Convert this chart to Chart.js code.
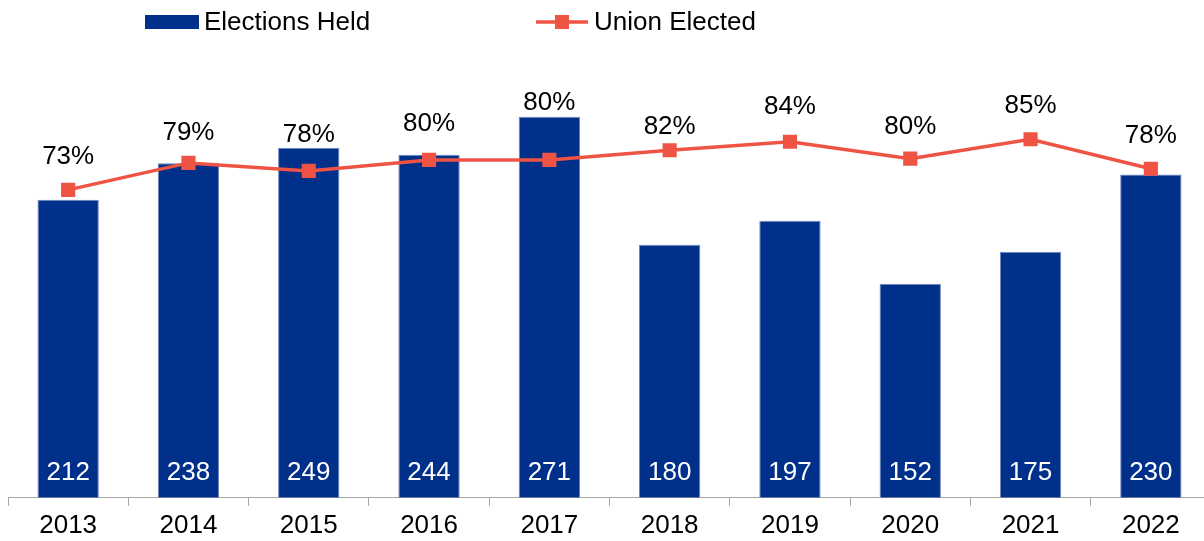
<!DOCTYPE html>
<html lang="en">
<head>
    <meta charset="UTF-8">
    <title>Elections Held and Union Elected</title>
    <script src="https://cdn.jsdelivr.net/npm/chart.js"></script>
    <style>
        html, body { margin: 0; padding: 0; background: #fff; overflow: hidden; }
        #clip { width: 1204px; height: 541px; overflow: hidden; }
        #wrap { width: 1212px; height: 541px; position: relative; }
    </style>
</head>
<body>

    <div id="clip"><div id="wrap"><canvas id="electionChart"></canvas></div></div>

    <script>
        // data
        const years = ['2013', '2014', '2015', '2016', '2017', '2018', '2019', '2020', '2021', '2022'];
        const electionsHeld = [212, 238, 249, 244, 271, 180, 197, 152, 175, 230];
        const unionElectedPct = [73.0, 79.4, 77.5, 80.1, 80.1, 82.4, 84.4, 80.4, 85.0, 78.0];

        // gap in px between each marker and its % label (labels were hand placed)
        const pctLabelGap = [33, 30, 36, 36, 57, 23, 35, 32, 33, 33];

        const barColor = '#00308A';
        const lineColor = '#EF5344';
        const fontFamily = '"Liberation Sans", Arial, sans-serif';

        // labels: % above the line, counts inside the bar bottoms
        const valueLabels = {
            id: 'valueLabels',
            afterDatasetsDraw(chart) {
                const ctx = chart.ctx;
                const bars = chart.getDatasetMeta(0).data;
                const points = chart.getDatasetMeta(1).data;
                const base = chart.chartArea.bottom;
                ctx.save();
                ctx.font = '26px ' + fontFamily;
                ctx.textAlign = 'center';
                ctx.textBaseline = 'middle';

                ctx.fillStyle = '#ffffff';
                bars.forEach((bar, i) => {
                    ctx.fillText(String(electionsHeld[i]), bar.x, base - 25);
                });

                ctx.fillStyle = '#000000';
                points.forEach((pt, i) => {
                    ctx.fillText(Math.round(unionElectedPct[i]) + '%', pt.x, pt.y - pctLabelGap[i]);
                });
                ctx.restore();
            }
        };

        // legend drawn by hand to match the original layout
        const topLegend = {
            id: 'topLegend',
            afterDraw(chart) {
                const ctx = chart.ctx;
                const ds = chart.data.datasets;
                ctx.save();
                ctx.font = '26px ' + fontFamily;
                ctx.textBaseline = 'middle';
                ctx.textAlign = 'left';

                ctx.fillStyle = barColor;
                ctx.fillRect(145, 15, 54, 14);
                ctx.fillStyle = '#000';
                ctx.fillText(ds[0].label, 204, 23);

                ctx.strokeStyle = lineColor;
                ctx.lineWidth = 3.5;
                ctx.beginPath();
                ctx.moveTo(536, 22);
                ctx.lineTo(588, 22);
                ctx.stroke();
                ctx.fillStyle = lineColor;
                ctx.fillRect(555, 15, 14, 14);
                ctx.fillStyle = '#000';
                ctx.fillText(ds[1].label, 594, 23);
                ctx.restore();
            }
        };

        const ctx = document.getElementById('electionChart').getContext('2d');
        const electionChart = new Chart(ctx, {
            type: 'bar',
            data: {
                labels: years,
                datasets: [{
                    label: 'Elections Held',
                    data: electionsHeld,
                    backgroundColor: barColor,
                    borderColor: '#6F86BE',
                    borderWidth: 1,
                    categoryPercentage: 1,
                    barPercentage: 0.51,
                    yAxisID: 'y',
                    order: 2
                }, {
                    type: 'line',
                    label: 'Union Elected',
                    data: unionElectedPct,
                    borderColor: lineColor,
                    backgroundColor: lineColor,
                    borderWidth: 3.5,
                    pointStyle: 'rect',
                    pointRadius: 10,
                    pointBorderWidth: 0,
                    fill: false,
                    tension: 0,
                    yAxisID: 'y2',
                    order: 1
                }]
            },
            options: {
                responsive: true,
                maintainAspectRatio: false,
                animation: false,
                layout: {
                    autoPadding: false,
                    padding: { top: 76, left: 8, right: 1, bottom: -4 }
                },
                plugins: {
                    legend: { display: false },
                    tooltip: { enabled: false }
                },
                scales: {
                    x: {
                        // plot runs edge to edge; drop the label padding chart.js adds
                        afterFit(scale) {
                            scale.paddingLeft = 0;
                            scale.paddingRight = 0;
                        },
                        grid: {
                            display: true,
                            drawOnChartArea: false,
                            drawTicks: true,
                            tickLength: 8,
                            offset: true,
                            color: '#A6A6A6'
                        },
                        border: { display: true, color: '#A6A6A6', width: 1 },
                        ticks: {
                            color: '#000',
                            padding: 4,
                            font: { size: 26, family: fontFamily }
                        }
                    },
                    y: {
                        display: false,
                        min: 0,
                        max: 300
                    },
                    y2: {
                        display: false,
                        position: 'right',
                        min: 0,
                        max: 100
                    }
                }
            },
            plugins: [valueLabels, topLegend]
        });
    </script>

</body>
</html>
